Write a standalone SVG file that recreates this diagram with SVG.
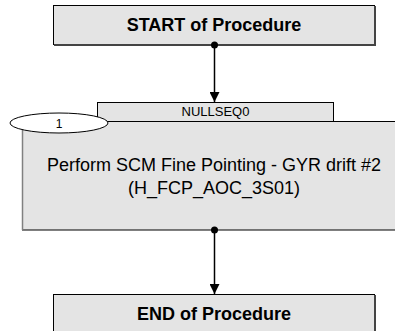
<svg xmlns="http://www.w3.org/2000/svg" width="395" height="331" viewBox="0 0 395 331">
<defs>
<style>
.box{fill:#e4e4e4;stroke:#000;stroke-width:1}
.sh{fill:none;stroke:#444;stroke-width:2}
.t{font-family:"Liberation Sans",Arial,sans-serif;fill:#000;text-anchor:middle}
.b{font-weight:bold;font-size:18px}
.c{stroke:#000;stroke-width:1.5;fill:none}
</style>
<marker id="ah" viewBox="0 0 10 10" refX="10" refY="5" markerWidth="10" markerHeight="10" markerUnits="userSpaceOnUse" orient="auto">
<path d="M0,0 L10,5 L0,10 Z" fill="#000"/>
</marker>
</defs>
<rect width="395" height="331" fill="#fff"/>
<g id="start">
<rect class="box" x="53.5" y="5.5" width="321" height="39"/>
<path class="sh" d="M375,6 V45 H54"/>
<text class="t b" x="214" y="31">START of Procedure</text>
</g>
<g id="step1">
<rect class="box" x="97.5" y="102.5" width="236" height="19"/>
<text class="t" x="215.5" y="116" font-size="13px">NULLSEQ0</text>
<rect class="box" x="22.5" y="121.5" width="380" height="108.5"/>
<path d="M22.5,122 V230" stroke="#808080" stroke-width="1.5" fill="none"/>
<text class="t" x="214" y="171" font-size="18px">Perform SCM Fine Pointing - GYR drift #2</text>
<text class="t" x="214" y="194" font-size="18px">(H_FCP_AOC_3S01)</text>
<ellipse cx="59" cy="123" rx="49" ry="10" fill="#fff" stroke="#000" stroke-width="1"/>
<text class="t" x="59" y="127.5" font-size="12px">1</text>
</g>
<g id="end">
<rect class="box" x="53.5" y="294.5" width="321" height="45"/>
<path class="sh" d="M375,295 V340"/>
<text class="t b" x="214" y="320">END of Procedure</text>
</g>
<g id="connectors">
<circle cx="214.5" cy="45" r="3.5" fill="#000"/>
<line class="c" x1="214.5" y1="45" x2="214.5" y2="102" marker-end="url(#ah)"/>
<circle cx="214.5" cy="230" r="3.5" fill="#000"/>
<line class="c" x1="214.5" y1="230" x2="214.5" y2="294" marker-end="url(#ah)"/>
</g>
</svg>
